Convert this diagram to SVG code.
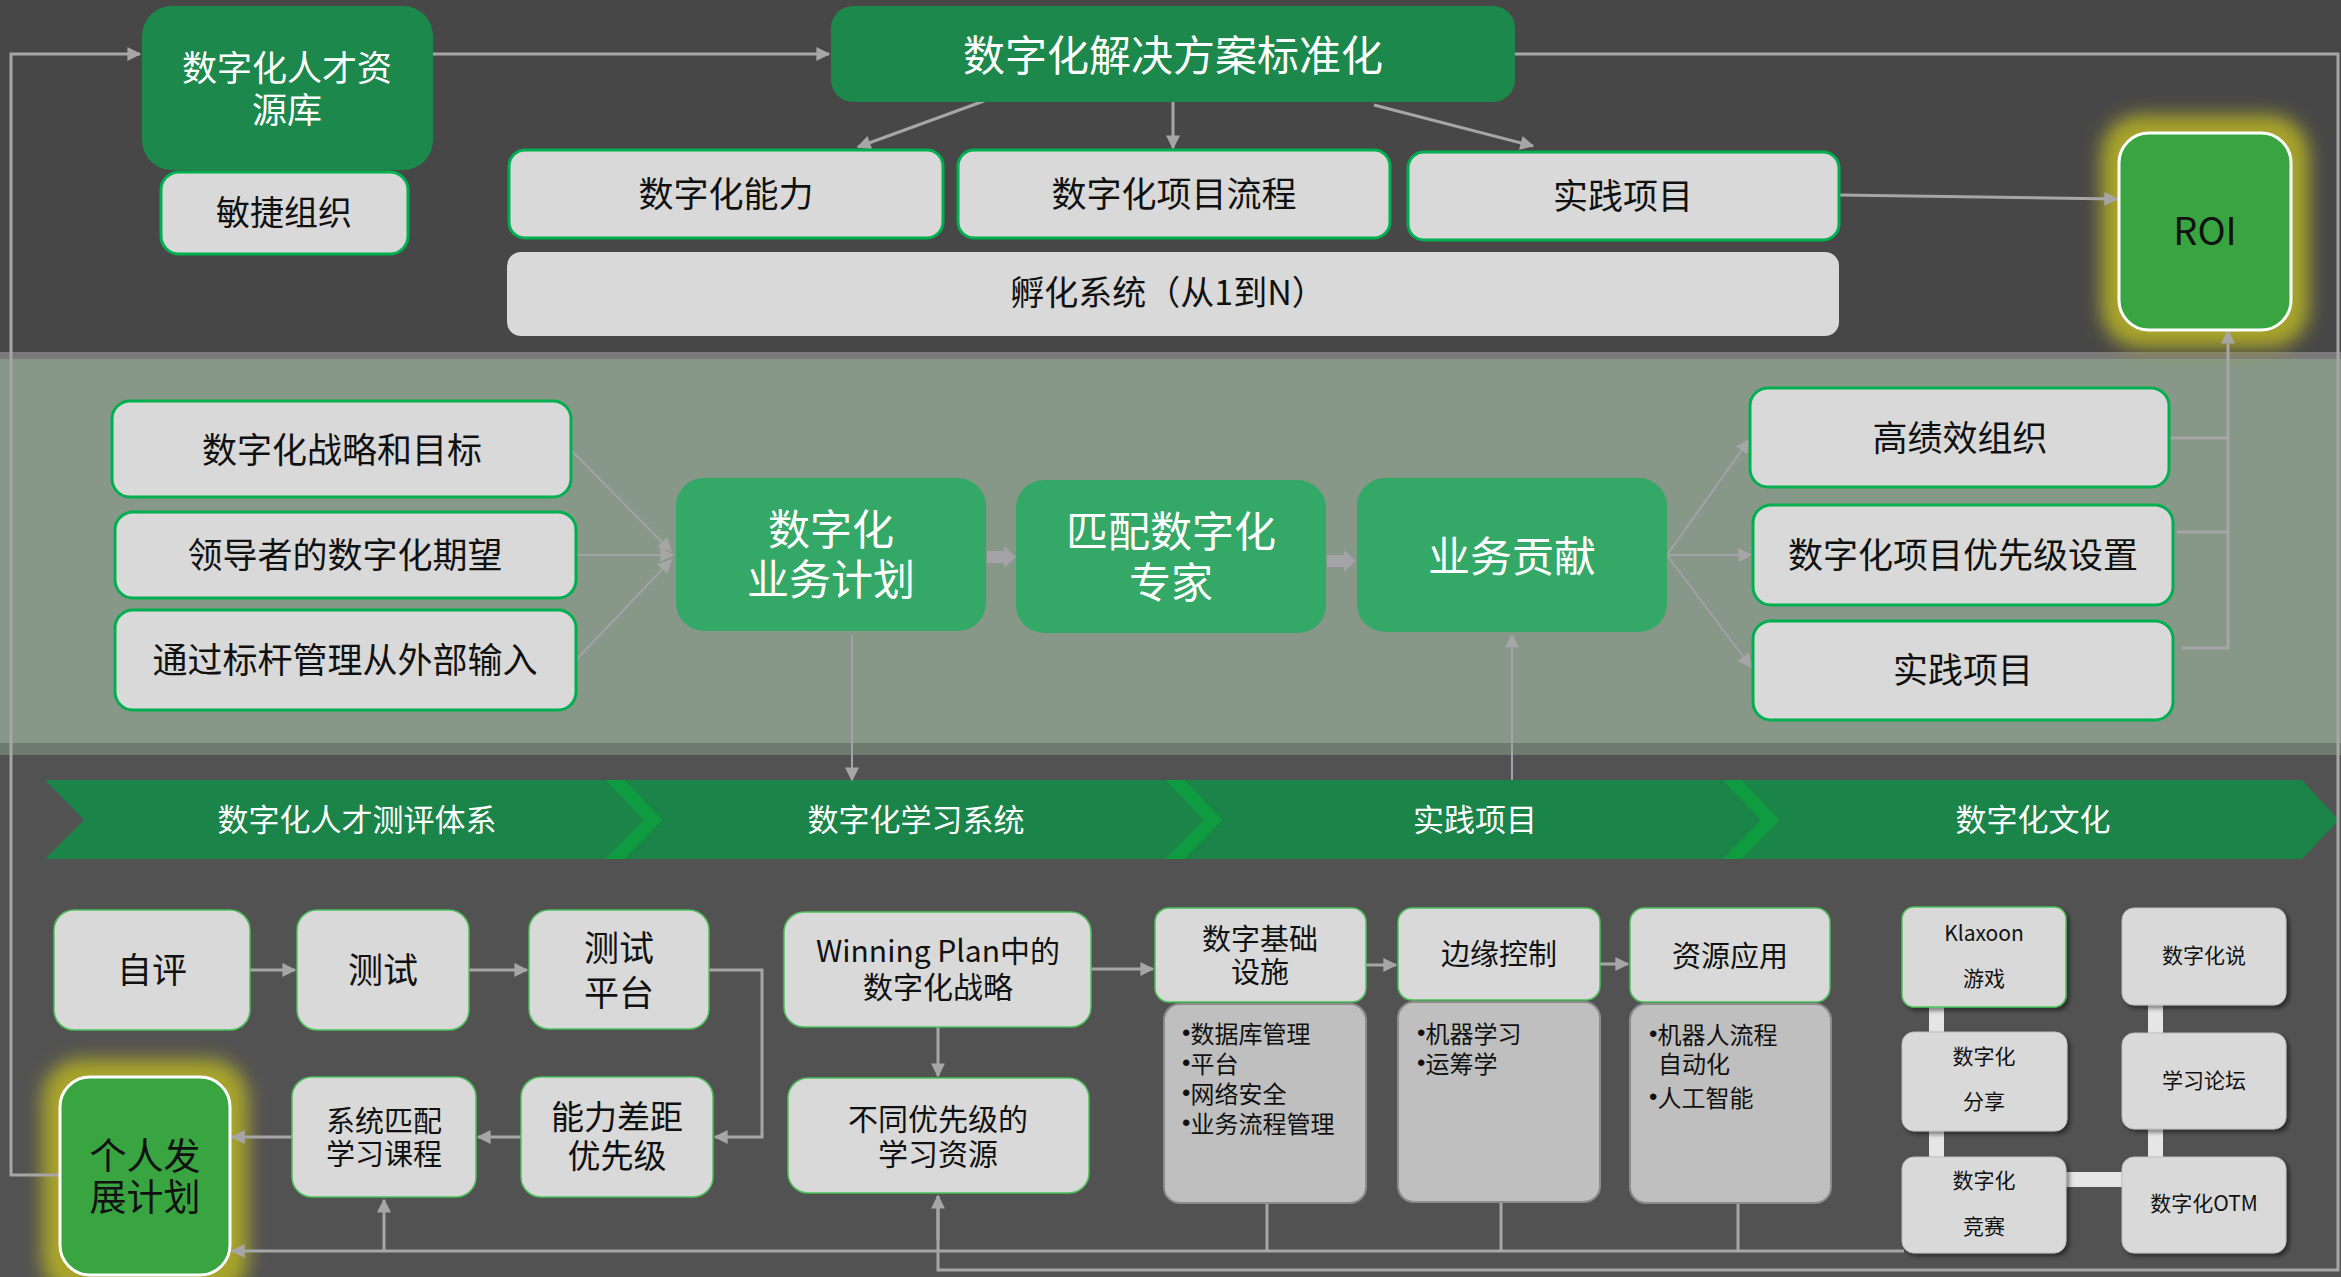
<svg xmlns="http://www.w3.org/2000/svg" width="2341" height="1277" viewBox="0 0 2341 1277">
<defs>
<style>
text{font-family:"Noto Sans CJK SC","Microsoft YaHei",sans-serif;text-anchor:middle;dominant-baseline:central;transform:translateY(-3px)}
.w{fill:#ffffff}
.k{fill:#111111}
.lb{fill:#d9d9d9;stroke:#00b050;stroke-width:3}
.lb2{fill:#d9d9d9;stroke:#4cc25a;stroke-width:1.5}
.plain{fill:#d9d9d9}
.dg{fill:#1c884b}
.mg{fill:#34a866}
.bg{fill:#38a540;stroke:#ffffff;stroke-width:3}
.det{fill:#bfbfbf;stroke:#8c8c8c;stroke-width:2}
.cb{fill:#d9d9d9;stroke:#bdbdbd;stroke-width:1}
.ln{fill:none;stroke:#a6a6a6;stroke-width:3}
.ln2{fill:none;stroke:#a2a2a8;stroke-width:2}
.arr{fill:none;stroke:#a6a6a6;stroke-width:3;marker-end:url(#ah)}
.arr2{fill:none;stroke:#a2a2a8;stroke-width:2;marker-end:url(#ah)}
.bar{fill:#e6e6e6}
.chev{fill:#1a8449}
.chs{fill:#0f9b40}
.li{text-anchor:start;font-size:24px;fill:#111}
.bu{font-family:"Liberation Sans",sans-serif}
</style>
<marker id="ah" viewBox="0 0 10 10" refX="9" refY="5" markerUnits="userSpaceOnUse" markerWidth="16" markerHeight="14" orient="auto">
<path d="M0,0 L10,5 L0,10 z" fill="#a6a6a6"/>
</marker>
<filter id="glow" x="-50%" y="-50%" width="200%" height="200%">
<feGaussianBlur stdDeviation="9"/>
</filter>
<filter id="sh" x="-10%" y="-10%" width="130%" height="130%">
<feDropShadow dx="3" dy="3" stdDeviation="2" flood-color="#000" flood-opacity="0.45"/>
</filter>
</defs>

<!-- backgrounds -->
<rect x="0" y="0" width="2341" height="352" fill="#474747"/>
<rect x="0" y="352" width="2341" height="7" fill="#7a7a7a"/>
<rect x="0" y="359" width="2341" height="384" fill="#879888"/>
<rect x="0" y="743" width="2341" height="12" fill="#6d7b6e"/>
<rect x="0" y="755" width="2341" height="522" fill="#525252"/>

<!-- glows -->
<rect x="2101" y="115" width="208" height="233" rx="40" fill="#a8a42a" filter="url(#glow)"/>
<rect x="42" y="1059" width="206" height="240" rx="40" fill="#a8a42a" filter="url(#glow)"/>

<!-- chevron band -->
<g id="chevrons">
<polygon class="chs" points="605,780 625,780 663,820 625,859 605,859 643,820"/>
<polygon class="chs" points="1165,780 1185,780 1223,820 1185,859 1165,859 1203,820"/>
<polygon class="chs" points="1722,780 1742,780 1780,820 1742,859 1722,859 1760,820"/>
<polygon class="chev" points="45,780 605,780 643,820 605,859 45,859 84,820"/>
<polygon class="chev" points="625,780 1165,780 1203,820 1165,859 625,859 663,820"/>
<polygon class="chev" points="1185,780 1722,780 1760,820 1722,859 1185,859 1223,820"/>
<polygon class="chev" points="1742,780 2302,780 2339,820 2302,859 1742,859 1780,820"/>
<text x="357" y="820" class="w" font-size="31">数字化人才测评体系</text>
<text x="916" y="820" class="w" font-size="31">数字化学习系统</text>
<text x="1475" y="820" class="w" font-size="31">实践项目</text>
<text x="2033" y="820" class="w" font-size="31">数字化文化</text>
</g>

<!-- connectors -->
<g id="connectors">
<path class="arr" d="M60,1175 H11 V54 H140"/>
<path class="arr" d="M433,54 H829"/>
<path class="ln" d="M1515,54 H2338 V1270 H938 V1196"/>
<path class="arr" d="M938,1240 V1196"/>
<path class="arr" d="M984,101 L858,147"/>
<path class="arr" d="M1173,102 V148"/>
<path class="arr" d="M1374,105 L1533,146"/>
<path class="arr" d="M1839,195 L2117,199"/>
<path class="ln" d="M2169,438 H2228 M2177,532 H2228 M2182,648 H2228 V360"/>
<path class="arr" d="M2228,360 V331"/>
<path class="arr2" d="M571,450 L671,551"/>
<path class="arr2" d="M576,555 H673"/>
<path class="arr2" d="M576,660 L671,560"/>
<path d="M987,551 H1004 V546 L1016,557 L1004,568 V563 H987 Z" fill="#a3a3a8"/>
<path d="M1327,555 H1344 V550 L1356,561 L1344,572 V567 H1327 Z" fill="#a3a3a8"/>
<path class="arr2" d="M1667,555 L1749,440"/>
<path class="arr2" d="M1667,555 H1751"/>
<path class="arr2" d="M1667,555 L1751,667"/>
<path class="arr2" d="M852,635 V780"/>
<path class="arr2" d="M1512,780 V635"/>
<path class="arr" d="M250,970 H295"/>
<path class="arr" d="M469,970 H527"/>
<path class="arr" d="M709,970 H762 V1137 H715"/>
<path class="arr" d="M521,1137 H478"/>
<path class="arr" d="M292,1137 H232"/>
<path class="arr" d="M1091,969 H1153"/>
<path class="arr" d="M938,1027 V1076"/>
<path class="arr" d="M1366,965 H1396"/>
<path class="arr" d="M1600,964 H1628"/>
<path class="arr" d="M1904,1251 H232"/>
<path class="arr" d="M384,1251 V1200"/>
<path class="ln" d="M1267,1203 V1251 M1501,1203 V1251 M1738,1203 V1251"/>
<rect class="bar" x="1929" y="1005" width="15" height="29"/>
<rect class="bar" x="1929" y="1129" width="15" height="30"/>
<rect class="bar" x="2148" y="1003" width="15" height="32"/>
<rect class="bar" x="2148" y="1127" width="15" height="32"/>
<rect class="bar" x="2064" y="1172" width="60" height="15"/>
</g>

<!-- top nodes -->
<g id="n-talent">
<rect class="dg" x="142" y="6" width="291" height="164" rx="30"/>
<text x="287" y="68" class="w" font-size="35">数字化人才资</text>
<text x="287" y="110" class="w" font-size="35">源库</text>
</g>
<g id="n-agile">
<rect class="lb" x="161" y="172" width="247" height="82" rx="18"/>
<text x="284" y="213" class="k" font-size="34">敏捷组织</text>
</g>
<g id="n-standard">
<rect class="dg" x="831" y="6" width="684" height="96" rx="22"/>
<text x="1173" y="55" class="w" font-size="42">数字化解决方案标准化</text>
</g>
<g id="n-ability">
<rect class="lb" x="509" y="150" width="434" height="88" rx="16"/>
<text x="726" y="194" class="k" font-size="35">数字化能力</text>
</g>
<g id="n-process">
<rect class="lb" x="958" y="150" width="432" height="88" rx="16"/>
<text x="1174" y="194" class="k" font-size="35">数字化项目流程</text>
</g>
<g id="n-practice-top">
<rect class="lb" x="1408" y="152" width="431" height="88" rx="16"/>
<text x="1623" y="196" class="k" font-size="35">实践项目</text>
</g>
<g id="n-incubate">
<rect class="plain" x="507" y="252" width="1332" height="84" rx="14"/>
<text x="1168" y="293" class="k" font-size="34">孵化系统（从1到N）</text>
</g>
<g id="n-roi">
<rect class="bg" x="2119" y="133" width="172" height="197" rx="30"/>
<text x="2205" y="231" class="k" font-size="38">ROI</text>
</g>

<!-- middle nodes -->
<g id="n-strategy">
<rect class="lb" x="112" y="401" width="459" height="96" rx="18"/>
<text x="342" y="450" class="k" font-size="35">数字化战略和目标</text>
</g>
<g id="n-leader">
<rect class="lb" x="115" y="512" width="461" height="86" rx="18"/>
<text x="345" y="555" class="k" font-size="35">领导者的数字化期望</text>
</g>
<g id="n-bench">
<rect class="lb" x="115" y="610" width="461" height="100" rx="18"/>
<text x="345" y="660" class="k" font-size="35">通过标杆管理从外部输入</text>
</g>
<g id="n-plan">
<rect class="mg" x="676" y="478" width="310" height="153" rx="28"/>
<text x="831" y="529" class="w" font-size="42">数字化</text>
<text x="831" y="579" class="w" font-size="42">业务计划</text>
</g>
<g id="n-match">
<rect class="mg" x="1016" y="480" width="310" height="153" rx="28"/>
<text x="1171" y="531" class="w" font-size="42">匹配数字化</text>
<text x="1171" y="582" class="w" font-size="42">专家</text>
</g>
<g id="n-contrib">
<rect class="mg" x="1357" y="478" width="310" height="154" rx="28"/>
<text x="1512" y="556" class="w" font-size="42">业务贡献</text>
</g>
<g id="n-highperf">
<rect class="lb" x="1750" y="388" width="419" height="99" rx="18"/>
<text x="1960" y="438" class="k" font-size="35">高绩效组织</text>
</g>
<g id="n-priority">
<rect class="lb" x="1753" y="505" width="420" height="100" rx="18"/>
<text x="1963" y="555" class="k" font-size="35">数字化项目优先级设置</text>
</g>
<g id="n-practice-mid">
<rect class="lb" x="1753" y="621" width="420" height="99" rx="18"/>
<text x="1963" y="670" class="k" font-size="35">实践项目</text>
</g>

<!-- bottom nodes -->
<g id="n-self">
<rect class="lb2" x="54" y="910" width="196" height="120" rx="20"/>
<text x="152" y="970" class="k" font-size="35">自评</text>
</g>
<g id="n-test">
<rect class="lb2" x="297" y="910" width="172" height="120" rx="20"/>
<text x="383" y="970" class="k" font-size="35">测试</text>
</g>
<g id="n-testplat">
<rect class="lb2" x="529" y="910" width="180" height="119" rx="20"/>
<text x="619" y="948" class="k" font-size="35">测试</text>
<text x="619" y="993" class="k" font-size="35">平台</text>
</g>
<g id="n-gap">
<rect class="lb2" x="521" y="1077" width="192" height="120" rx="20"/>
<text x="617" y="1118" class="k" font-size="33">能力差距</text>
<text x="617" y="1157" class="k" font-size="33">优先级</text>
</g>
<g id="n-course">
<rect class="lb2" x="292" y="1077" width="184" height="120" rx="20"/>
<text x="384" y="1122" class="k" font-size="29">系统匹配</text>
<text x="384" y="1155" class="k" font-size="29">学习课程</text>
</g>
<g id="n-idp">
<rect class="bg" x="60" y="1077" width="170" height="198" rx="30"/>
<text x="145" y="1157" class="k" font-size="37">个人发</text>
<text x="145" y="1198" class="k" font-size="37">展计划</text>
</g>
<g id="n-winning">
<rect class="lb2" x="784" y="912" width="307" height="115" rx="20"/>
<text x="938" y="952" class="k" font-size="30">Winning Plan中的</text>
<text x="938" y="988" class="k" font-size="30">数字化战略</text>
</g>
<g id="n-resources">
<rect class="lb2" x="788" y="1078" width="301" height="115" rx="20"/>
<text x="938" y="1120" class="k" font-size="30">不同优先级的</text>
<text x="938" y="1155" class="k" font-size="30">学习资源</text>
</g>
<g id="n-infra">
<rect class="lb2" x="1155" y="908" width="211" height="94" rx="14"/>
<text x="1260" y="940" class="k" font-size="29">数字基础</text>
<text x="1260" y="973" class="k" font-size="29">设施</text>
<rect class="det" x="1164" y="1004" width="202" height="199" rx="16"/>
<text x="1182" y="1035" class="li"><tspan class="bu">•</tspan>数据库管理</text>
<text x="1182" y="1065" class="li"><tspan class="bu">•</tspan>平台</text>
<text x="1182" y="1095" class="li"><tspan class="bu">•</tspan>网络安全</text>
<text x="1182" y="1125" class="li"><tspan class="bu">•</tspan>业务流程管理</text>
</g>
<g id="n-edge">
<rect class="lb2" x="1398" y="908" width="202" height="92" rx="14"/>
<text x="1499" y="955" class="k" font-size="29">边缘控制</text>
<rect class="det" x="1398" y="1002" width="202" height="200" rx="16"/>
<text x="1417" y="1035" class="li"><tspan class="bu">•</tspan>机器学习</text>
<text x="1417" y="1065" class="li"><tspan class="bu">•</tspan>运筹学</text>
</g>
<g id="n-apply">
<rect class="lb2" x="1630" y="908" width="200" height="94" rx="14"/>
<text x="1730" y="957" class="k" font-size="29">资源应用</text>
<rect class="det" x="1630" y="1004" width="201" height="199" rx="16"/>
<text x="1649" y="1036" class="li"><tspan class="bu">•</tspan>机器人流程</text>
<text x="1658" y="1065" class="li">自动化</text>
<text x="1649" y="1099" class="li"><tspan class="bu">•</tspan>人工智能</text>
</g>

<!-- culture nodes -->
<g id="n-klaxoon">
<rect class="lb2" x="1902" y="907" width="164" height="100" rx="12" filter="url(#sh)"/>
<text x="1984" y="935" class="k" font-size="21">Klaxoon</text>
<text x="1984" y="980" class="k" font-size="21">游戏</text>
</g>
<g id="n-share">
<rect class="cb" x="1902" y="1032" width="165" height="99" rx="12" filter="url(#sh)"/>
<text x="1984" y="1058" class="k" font-size="21">数字化</text>
<text x="1984" y="1103" class="k" font-size="21">分享</text>
</g>
<g id="n-compete">
<rect class="cb" x="1902" y="1157" width="164" height="96" rx="12" filter="url(#sh)"/>
<text x="1984" y="1182" class="k" font-size="21">数字化</text>
<text x="1984" y="1228" class="k" font-size="21">竞赛</text>
</g>
<g id="n-talk">
<rect class="cb" x="2122" y="908" width="164" height="97" rx="12" filter="url(#sh)"/>
<text x="2204" y="957" class="k" font-size="21">数字化说</text>
</g>
<g id="n-forum">
<rect class="cb" x="2122" y="1033" width="164" height="96" rx="12" filter="url(#sh)"/>
<text x="2204" y="1082" class="k" font-size="21">学习论坛</text>
</g>
<g id="n-otm">
<rect class="cb" x="2122" y="1157" width="164" height="96" rx="12" filter="url(#sh)"/>
<text x="2204" y="1205" class="k" font-size="21">数字化OTM</text>
</g>
</svg>
